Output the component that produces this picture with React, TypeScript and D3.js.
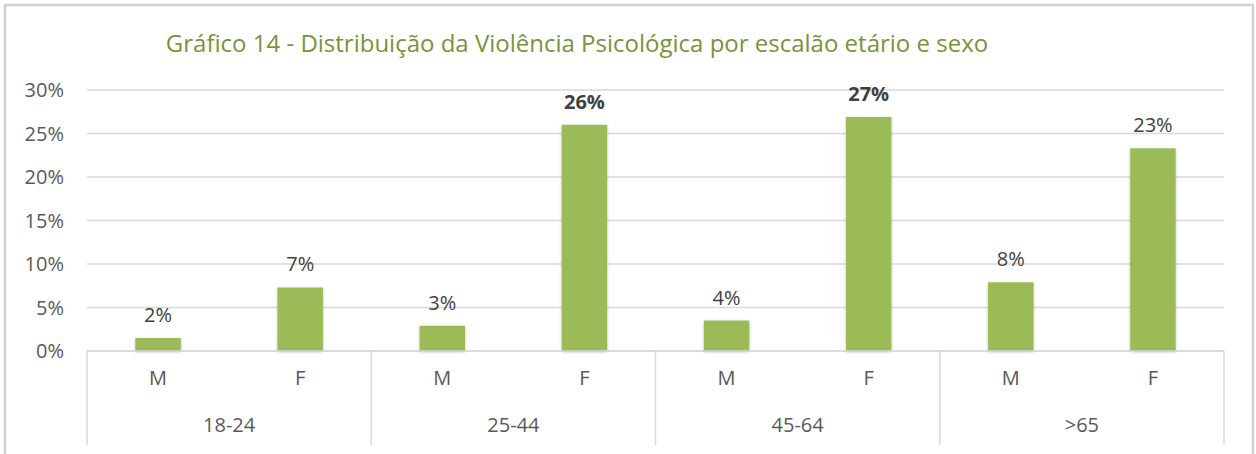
import React, { useEffect, useRef } from 'react';
import * as d3 from 'd3';

// dados
const ageGroups = ['18-24', '25-44', '45-64', '>65'];
const sexes = ['M', 'F'];
const values = [1.5, 7.3, 2.9, 26.0, 3.5, 26.9, 7.9, 23.3];
const labels = ['2%', '7%', '3%', '26%', '4%', '27%', '8%', '23%'];
const boldLabels = [false, false, false, true, false, true, false, false];
const yTicks = [0, 5, 10, 15, 20, 25, 30];

export default function App() {
  const svgRef = useRef<SVGSVGElement>(null);

  useEffect(() => {
    const W = 1256, H = 454;
    const margin = { top: 90, right: 32, bottom: 103, left: 87 };
    const width = W - margin.left - margin.right;
    const height = H - margin.top - margin.bottom;
    const font = '"Open Sans", "Noto Sans", sans-serif';

    const root = d3.select(svgRef.current);
    root.selectAll('*').remove();
    root.attr('width', W).attr('height', H).attr('viewBox', `0 0 ${W} ${H}`);

    // sombra leve das barras
    const defs = root.append('defs');
    const f = defs.append('filter').attr('id', 'shadow').attr('x', '-20%').attr('y', '-20%').attr('width', '140%').attr('height', '140%');
    f.append('feDropShadow').attr('dx', 0).attr('dy', 1).attr('stdDeviation', 1.5).attr('flood-color', '#000').attr('flood-opacity', 0.25);

    // moldura
    root.append('rect')
      .attr('x', 5).attr('y', 5).attr('width', 1248).attr('height', 470)
      .attr('fill', 'none').attr('stroke', '#d0d0d0').attr('stroke-width', 2.5);

    root.append('text')
      .attr('x', 577).attr('y', 52)
      .attr('text-anchor', 'middle')
      .attr('font-family', font).attr('font-size', 24)
      .attr('fill', '#77933c')
      .text('Gráfico 14 - Distribuição da Violência Psicológica por escalão etário e sexo');

    const svg = root.append('g').attr('transform', `translate(${margin.left},${margin.top})`);

    const keys = ageGroups.flatMap(g => sexes.map(s => `${g}|${s}`));
    const x = d3.scaleBand().domain(keys).range([0, width]).paddingInner(0.68).paddingOuter(0.34);
    const xGroup = d3.scaleBand().domain(ageGroups).range([0, width]);
    const y = d3.scaleLinear().domain([0, 30]).range([height, 0]);

    // grelha
    svg.append('g').selectAll('line').data(yTicks).enter().append('line')
      .attr('x1', 0).attr('x2', width)
      .attr('y1', d => y(d)).attr('y2', d => y(d))
      .attr('stroke', '#d9d9d9').attr('stroke-width', 1.5);

    svg.append('g').selectAll('text').data(yTicks).enter().append('text')
      .attr('x', -23).attr('y', d => y(d)).attr('dy', '0.35em')
      .attr('text-anchor', 'end')
      .attr('font-family', font).attr('font-size', 20).attr('fill', '#595959')
      .text(d => `${d}%`);

    // barras
    const data = keys.map((k, i) => ({ key: k, value: values[i], label: labels[i], bold: boldLabels[i] }));
    svg.selectAll('.bar').data(data).enter().append('rect')
      .attr('class', 'bar')
      .attr('x', d => x(d.key)!)
      .attr('y', d => y(d.value))
      .attr('width', x.bandwidth())
      .attr('height', d => height - y(d.value))
      .attr('fill', '#9bbb59')
      .attr('filter', 'url(#shadow)');

    svg.selectAll('.lbl').data(data).enter().append('text')
      .attr('class', 'lbl')
      .attr('x', d => x(d.key)! + x.bandwidth() / 2)
      .attr('y', d => y(d.value) - 16)
      .attr('text-anchor', 'middle')
      .attr('font-family', font).attr('font-size', 20)
      .attr('font-weight', d => (d.bold ? 'bold' : 'normal'))
      .attr('fill', '#404040')
      .text(d => d.label);

    // eixo inferior
    svg.append('line')
      .attr('x1', 0).attr('x2', width).attr('y1', height).attr('y2', height)
      .attr('stroke', '#d9d9d9').attr('stroke-width', 1.5);

    const bounds = ageGroups.map(g => xGroup(g)!).concat([width]);
    svg.append('g').selectAll('line').data(bounds).enter().append('line')
      .attr('x1', d => d).attr('x2', d => d)
      .attr('y1', height).attr('y2', height + 94)
      .attr('stroke', '#d9d9d9').attr('stroke-width', 1.5);

    svg.append('g').selectAll('text').data(data).enter().append('text')
      .attr('x', d => x(d.key)! + x.bandwidth() / 2)
      .attr('y', height + 34)
      .attr('text-anchor', 'middle')
      .attr('font-family', font).attr('font-size', 20).attr('fill', '#595959')
      .text(d => d.key.split('|')[1]);

    svg.append('g').selectAll('text').data(ageGroups).enter().append('text')
      .attr('x', d => xGroup(d)! + xGroup.bandwidth() / 2)
      .attr('y', height + 81)
      .attr('text-anchor', 'middle')
      .attr('font-family', font).attr('font-size', 20).attr('fill', '#595959')
      .text(d => d);
  }, []);

  return (
    <svg ref={svgRef} style={{ position: 'absolute', left: 0, top: 0, display: 'block', background: '#fff' }}></svg>
  );
}
